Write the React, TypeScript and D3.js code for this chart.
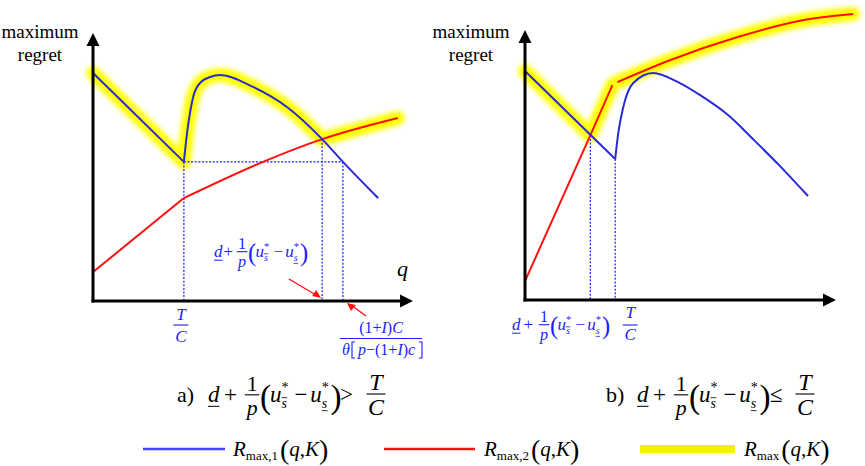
import React from 'react';
import * as d3 from 'd3';

type Pt = [number, number];

// panel a) — q (x) vs maximum regret (y), arbitrary units 0..100
const blueFallA: Pt[] = [[0, 85.1], [28.4, 51.9]];
const blueRiseA: Pt[] = [[28.4, 51.9], [29.4, 62.7], [31.3, 76.1], [33.4, 81.3], [36.6, 83.6], [39.7, 84.3], [50, 79.9], [60.6, 72.4], [71.6, 60.4], [78.1, 51.9], [89.1, 38.4]];
const redStartA: Pt[] = [[0, 10.8], [28.4, 38.4]];
const redRestA: Pt[] = [[28.4, 38.4], [53.1, 51.9], [71.6, 60.4], [95.3, 68.3]];
const marksA = { tc: 28.4, cross: 71.6, bound: 78.1, minR: 51.9, crossR: 60.4 };

// panel b)
const blueFallB: Pt[] = [[0, 84.8], [29, 52.2]];
const blueRiseB: Pt[] = [[29, 52.2], [30, 61.9], [31.6, 71.5], [34.8, 80.4], [41.2, 84.1], [49.2, 80.7], [57.2, 75.2], [65.3, 68.5], [73.3, 59.6], [82, 49.6], [91, 38.5]];
const redLowB: Pt[] = [[0, 7], [21, 61], [28.1, 79.6]];
const redHighB: Pt[] = [[29.7, 80.7], [46.8, 88.9], [68.4, 97.4], [89.7, 103.7], [105.5, 105.9]];
const marksB = { cross: 21, crossR: 61, tc: 29, minR: 52.2 };

const FONT = '"Liberation Serif"';
const BLUE = '#2a2ad6';
const RED = '#ff1010';
const LBL = '#1c1cff';

const xA = d3.scaleLinear().domain([0, 100]).range([93, 413]);
const yA = d3.scaleLinear().domain([0, 100]).range([301, 33]);
const xB = d3.scaleLinear().domain([0, 100]).range([525, 836]);
const yB = d3.scaleLinear().domain([0, 100]).range([300, 30]);

const mk = (x: any, y: any, curve: any) =>
  d3.line<Pt>().x(d => x(d[0])).y(d => y(d[1])).curve(curve);

// text with the serif face set directly on the element
const Tx = (p: any) => <text {...p} style={{ fontFamily: FONT }} />;

function Axes({ x, y, labelX }: any) {
  const x0 = x(0), y0 = y(0), xt = x(100), yt = y(100);
  return (
    <g>
      <line x1={x0} y1={y0 + 1.5} x2={x0} y2={yt + 10} stroke="#000" strokeWidth={3} />
      <polygon points={`${x0},${yt} ${x0 - 6.5},${yt + 13} ${x0 + 6.5},${yt + 13}`} fill="#000" />
      <line x1={x0 - 1.5} y1={y0} x2={xt - 10} y2={y0} stroke="#000" strokeWidth={3} />
      <polygon points={`${xt},${y0} ${xt - 13},${y0 - 6.5} ${xt - 13},${y0 + 6.5}`} fill="#000" />
      <Tx x={labelX} y={38} fontSize={19} textAnchor="middle">maximum</Tx>
      <Tx x={labelX} y={61} fontSize={19} textAnchor="middle">regret</Tx>
    </g>
  );
}

function Frac({ cx, top, bar, bot, w, num, den, size, color, italic }: any) {
  return (
    <g fill={color} fontSize={size}>
      <Tx x={cx} y={top} textAnchor="middle" fontStyle={italic ? 'italic' : 'normal'}>{num}</Tx>
      <line x1={cx - w / 2} x2={cx + w / 2} y1={bar} y2={bar} stroke={color} strokeWidth={1.1} />
      <Tx x={cx} y={bot} textAnchor="middle" fontStyle="italic">{den}</Tx>
    </g>
  );
}

// d + 1/p (u*_s̄ − u*_s)  — positions given relative to x0 and baseline b
function DExpr({ x0, b, s, color, gap }: any) {
  const k = s / 16;
  const g = gap || 0;
  return (
    <g fill={color}>
      <Tx x={x0} y={b} fontSize={s} fontStyle="italic">d</Tx>
      <line x1={x0} x2={x0 + 8 * k} y1={b + 3 * k} y2={b + 3 * k} stroke={color} strokeWidth={1} />
      <Tx x={x0 + 9 * k + g} y={b} fontSize={s}>+</Tx>
      <Frac cx={x0 + 26.5 * k + 2 * g} top={b - 8 * k} bar={b - 5 * k} bot={b + 9 * k} w={10 * k} num="1" den="p" size={s * 0.95} color={color} />
      <Tx x={x0 + 32 * k + 2 * g} y={b + 4 * k} fontSize={s * 1.45}>(</Tx>
      <Tx x={x0 + 39 * k + 2 * g} y={b} fontSize={s} fontStyle="italic">u</Tx>
      <Tx x={x0 + 47 * k + 2 * g} y={b - 7 * k} fontSize={s * 0.62}>*</Tx>
      <Tx x={x0 + 47 * k + 2 * g} y={b + 4 * k} fontSize={s * 0.6} fontStyle="italic">s</Tx>
      <line x1={x0 + 47 * k + 2 * g} x2={x0 + 51 * k + 2 * g} y1={b - 3 * k} y2={b - 3 * k} stroke={color} strokeWidth={0.8} />
      <Tx x={x0 + 56 * k + 2 * g} y={b} fontSize={s}>−</Tx>
      <Tx x={x0 + 67 * k + 2 * g} y={b} fontSize={s} fontStyle="italic">u</Tx>
      <Tx x={x0 + 75 * k + 2 * g} y={b - 7 * k} fontSize={s * 0.62}>*</Tx>
      <Tx x={x0 + 75 * k + 2 * g} y={b + 4 * k} fontSize={s * 0.6} fontStyle="italic">s</Tx>
      <line x1={x0 + 75 * k + 2 * g} x2={x0 + 79 * k + 2 * g} y1={b + 6 * k} y2={b + 6 * k} stroke={color} strokeWidth={0.8} />
      <Tx x={x0 + 81 * k + 2 * g} y={b + 4 * k} fontSize={s * 1.45}>)</Tx>
    </g>
  );
}

function Caption({ x0, tag, sign, dOff, gap, signOff, fracOff }: any) {
  const b = 402;
  return (
    <g>
      <Tx x={x0} y={b} fontSize={22}>{tag}</Tx>
      <DExpr x0={x0 + dOff} b={b} s={23} color="#000" gap={gap} />
      <Tx x={x0 + signOff} y={b} fontSize={23}>{sign}</Tx>
      <Frac cx={x0 + fracOff} top={b - 12} bar={b - 8} bot={b + 13} w={19} num="T" den="C" size={24} color="#000" italic />
    </g>
  );
}

function LegendItem({ x1, x2, color, width, sub, tx }: any) {
  return (
    <g>
      <line x1={x1} x2={x2} y1={449} y2={449} stroke={color} strokeWidth={width} />
      <Tx x={tx} y={456} fontSize={21}>
        <tspan fontStyle="italic">R</tspan>
        <tspan fontSize={13} dy={4}>{sub}</tspan>
        <tspan fontSize={28} dy={-1} dx={2}>(</tspan>
        <tspan fontStyle="italic" fontSize={21} dy={-3}>q</tspan>
        <tspan fontSize={21}>,</tspan>
        <tspan fontStyle="italic" fontSize={21}>K</tspan>
        <tspan fontSize={28} dy={3}>)</tspan>
      </Tx>
    </g>
  );
}

export default function App() {
  const linA = mk(xA, yA, d3.curveLinear);
  const smA = mk(xA, yA, d3.curveMonotoneX);
  const linB = mk(xB, yB, d3.curveLinear);
  const smB = mk(xB, yB, d3.curveMonotoneX);

  const ci = blueRiseA.findIndex(p => p[0] === marksA.cross);
  const maxA = [linA(blueFallA), smA(blueRiseA.slice(0, ci + 1)), smA(redRestA.slice(2))];
  const maxB = [linB([blueFallB[0], [marksB.cross, marksB.crossR], redLowB[2], redHighB[0]]), smB(redHighB)];

  const dot = { stroke: '#1a1aff', strokeWidth: 1.2, strokeDasharray: '2,1.6' };

  return (
    <svg width={865} height={466}
      style={{ position: 'absolute', left: 0, top: 0, background: '#fff' }}>
      <defs>
        <filter id="glow" x="-10%" y="-20%" width="120%" height="140%">
          <feGaussianBlur stdDeviation={2.4} />
        </filter>
      </defs>

      {/* yellow envelope R_max */}
      <g fill="none" stroke="#ffff00" strokeWidth={14} strokeLinecap="round" strokeLinejoin="round" filter="url(#glow)">
        {maxA.map((d, i) => <path key={'a' + i} d={d || ''} />)}
        {maxB.map((d, i) => <path key={'b' + i} d={d || ''} />)}
      </g>

      {/* dotted guides */}
      <g {...dot}>
        <line x1={xA(marksA.tc)} x2={xA(marksA.tc)} y1={yA(marksA.minR)} y2={yA(0)} />
        <line x1={xA(marksA.tc)} x2={xA(marksA.bound)} y1={yA(marksA.minR)} y2={yA(marksA.minR)} />
        <line x1={xA(marksA.cross)} x2={xA(marksA.cross)} y1={yA(marksA.crossR)} y2={yA(0)} />
        <line x1={xA(marksA.bound)} x2={xA(marksA.bound)} y1={yA(marksA.minR)} y2={yA(0)} />
        <line x1={xB(marksB.cross)} x2={xB(marksB.cross)} y1={yB(marksB.crossR)} y2={yB(0)} />
        <line x1={xB(marksB.tc)} x2={xB(marksB.tc)} y1={yB(marksB.minR)} y2={yB(0)} />
      </g>

      {/* curves */}
      <g fill="none" strokeWidth={2} strokeLinejoin="round">
        <path d={linA(redStartA) || ''} stroke={RED} />
        <path d={smA(redRestA) || ''} stroke={RED} />
        <path d={linA(blueFallA) || ''} stroke={BLUE} />
        <path d={smA(blueRiseA) || ''} stroke={BLUE} />
        <path d={linB(redLowB) || ''} stroke={RED} />
        <path d={smB(redHighB) || ''} stroke={RED} />
        <path d={linB(blueFallB) || ''} stroke={BLUE} />
        <path d={smB(blueRiseB) || ''} stroke={BLUE} />
      </g>

      <Axes x={xA} y={yA} labelX={40} />
      <Axes x={xB} y={yB} labelX={471} />
      <Tx x={397} y={276} fontSize={22} fontStyle="italic">q</Tx>

      {/* annotations panel a */}
      <DExpr x0={214} b={257} s={17} color={LBL} />
      <Frac cx={xA(marksA.tc) - 3} top={320} bar={325} bot={342} w={15} num="T" den="C" size={17} color={LBL} italic />
      <g fill={LBL} fontSize={16}>
        <Tx x={381} y={333} textAnchor="middle">(1+<tspan fontStyle="italic">I</tspan>)<tspan fontStyle="italic">C</tspan></Tx>
        <line x1={340} x2={422} y1={338.5} y2={338.5} stroke={LBL} strokeWidth={1.1} />
        <Tx x={342} y={355} fontStyle="italic">θ</Tx>
        <path d="M355,342 H352 V358 H355 M419,342 H422 V358 H419" fill="none" stroke={LBL} strokeWidth={1.1} />
        <Tx x={358} y={355}><tspan fontStyle="italic">p</tspan>−(1+<tspan fontStyle="italic">I</tspan>)<tspan fontStyle="italic">c</tspan></Tx>
      </g>
      <g stroke={RED} strokeWidth={1.4} fill={RED}>
        <line x1={289} y1={279} x2={316} y2={295} />
        <polygon points={`${xA(marksA.cross) - 1},${yA(0) - 3} ${xA(marksA.cross) - 10},${yA(0) - 5} ${xA(marksA.cross) - 6},${yA(0) - 11}`} stroke="none" />
        <line x1={366} y1={316} x2={351} y2={305} />
        <polygon points={`${xA(marksA.bound) + 4},${yA(0) + 2} ${xA(marksA.bound) + 13},${yA(0) + 4} ${xA(marksA.bound) + 8},${yA(0) + 10}`} stroke="none" />
      </g>

      {/* annotations panel b */}
      <DExpr x0={512} b={330} s={17} color={LBL} gap={2} />
      <Frac cx={xB(marksB.tc) + 15} top={318} bar={325} bot={340} w={15} num="T" den="C" size={17} color={LBL} italic />

      <Caption x0={177} tag="a)" sign=">" dOff={31} gap={3} signOff={163} fracOff={199} />
      <Caption x0={606} tag="b)" sign="≤" dOff={31} gap={3} signOff={164} fracOff={199} />

      <LegendItem x1={143} x2={225} color="#4646ff" width={2.5} sub="max,1" tx={233} />
      <LegendItem x1={384} x2={475} color={RED} width={2.5} sub="max,2" tx={484} />
      <LegendItem x1={640} x2={735} color="#f4f400" width={8} sub="max" tx={744} />
    </svg>
  );
}
